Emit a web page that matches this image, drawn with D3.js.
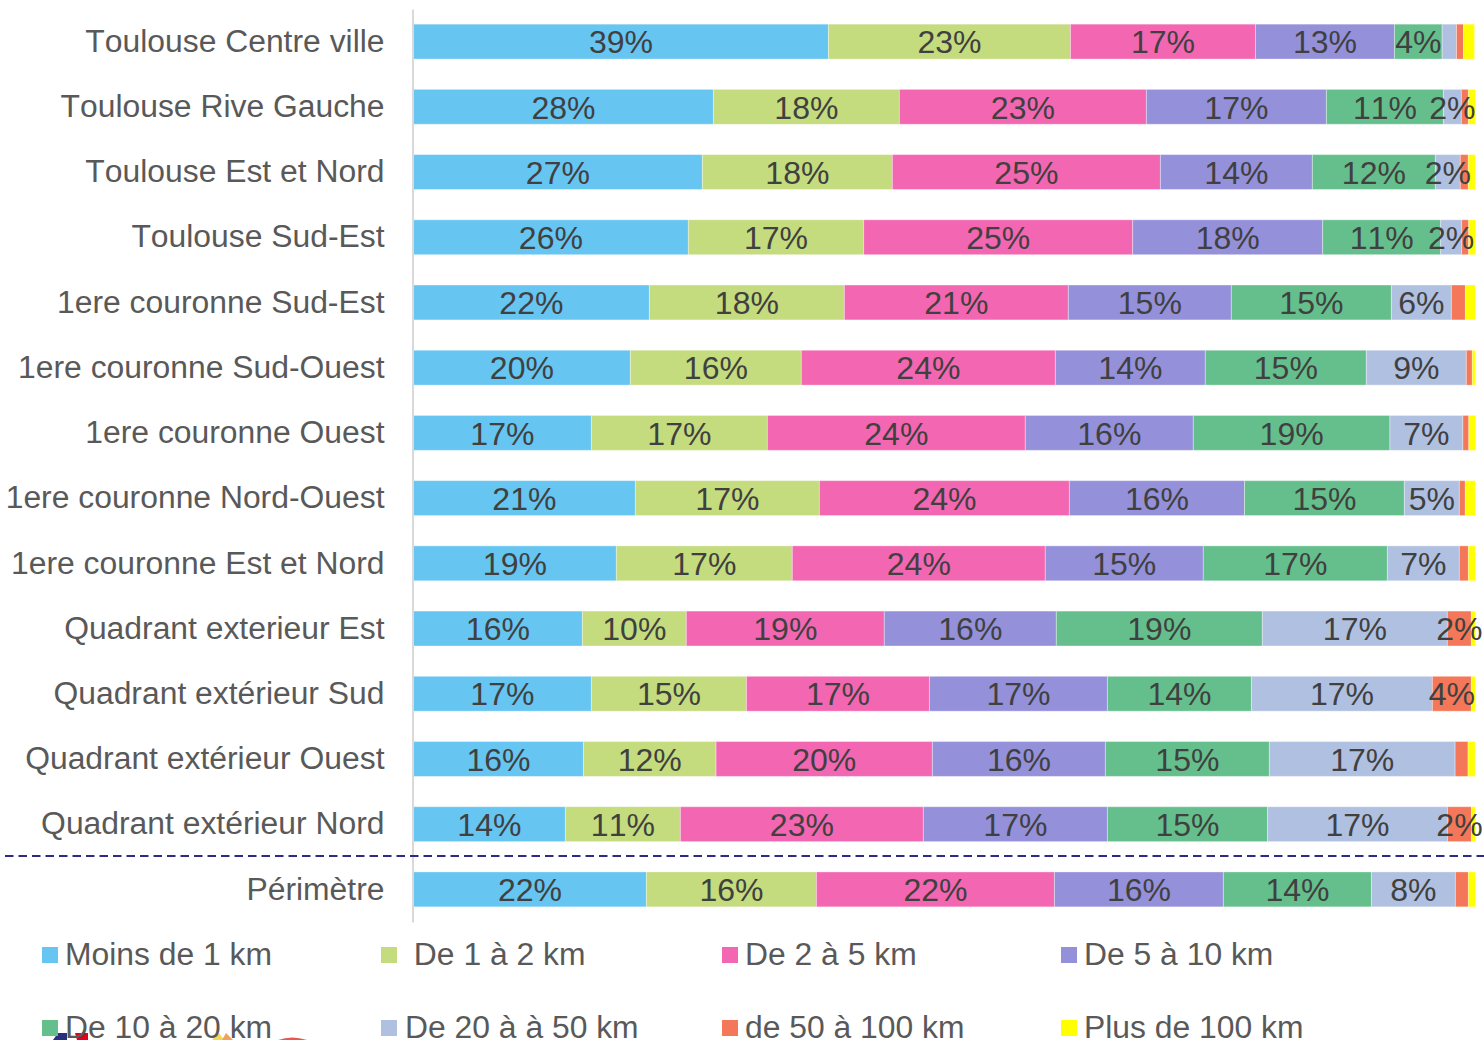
<!DOCTYPE html>
<html><head><meta charset="utf-8">
<script src="https://cdnjs.cloudflare.com/ajax/libs/d3/7.8.5/d3.min.js"></script>
<style>html,body{margin:0;padding:0;background:#fff;overflow:hidden}svg{display:block}text{font-family:"Liberation Sans",Arial,sans-serif;font-kerning:none}</style>
</head><body><div id="c"></div>
<script>
const categories=["Toulouse Centre ville","Toulouse Rive Gauche","Toulouse Est et Nord","Toulouse Sud-Est","1ere couronne Sud-Est","1ere couronne Sud-Ouest","1ere couronne Ouest","1ere couronne Nord-Ouest","1ere couronne Est et Nord","Quadrant exterieur Est","Quadrant extérieur Sud","Quadrant extérieur Ouest","Quadrant extérieur Nord","Périmètre"];
const seriesNames=["Moins de 1 km"," De 1 à 2 km","De 2 à 5 km","De 5 à 10 km","De 10 à 20 km","De 20 à à 50 km","de 50 à 100 km","Plus de 100 km"];
const seriesColors=["#66C5F1","#C4DB7E","#F366B1","#9490DA","#65BF8C","#B0C0E1","#F37758","#FFFF00"];
const moins1=[39.08,28.25,27.21,25.89,22.22,20.43,16.76,20.9,19.11,15.91,16.76,16.01,14.31,21.94];
const de1a2=[22.79,17.51,17.89,16.51,18.36,16.10,16.57,17.33,16.57,9.79,14.6,12.49,10.83,16.01];
const de2a5=[17.42,23.26,25.24,25.33,21.09,23.92,24.29,23.54,23.82,18.64,17.23,20.37,22.88,22.41];
const de5a10=[13.09,16.95,14.31,17.89,15.35,14.12,15.82,16.49,14.88,16.2,16.76,16.29,17.33,15.91];
const de10a20=[4.49,11.02,11.58,11.11,15.07,15.16,18.51,15.05,17.33,19.4,13.56,15.44,15.07,13.94];
const de20a50=[1.35,1.69,2.35,1.98,5.65,9.42,6.87,5.18,6.78,17.42,17.04,17.49,16.95,7.91];
const de50a100=[0.66,0.66,0.75,0.66,1.32,0.56,0.56,0.56,0.85,2.26,3.67,1.22,2.26,1.22];
const plus100=[1.04,0.66,0.66,0.66,0.94,0.28,0.66,0.94,0.66,0.38,0.38,0.66,0.38,0.66];
const allSeries=[moins1,de1a2,de2a5,de5a10,de10a20,de20a50,de50a100,plus100];
const rows=categories.map((c,i)=>{const o={cat:c};seriesNames.forEach((s,k)=>o[s]=allSeries[k][i]);return o;});
const W=1484,H=1040;
const svg=d3.select("#c").append("svg").attr("width",W).attr("height",H);
const x=d3.scaleLinear().domain([0,100]).range([413.4,1475.4]);
const y=d3.scaleBand().domain(categories).range([9,922]).paddingInner(0.465).paddingOuter(0.2325);
const stack=d3.stack().keys(seriesNames)(rows);
const g=svg.selectAll("g.s").data(stack).join("g").attr("class","s").attr("fill",(d,i)=>seriesColors[i]);
g.selectAll("rect").data(d=>d).join("rect")
 .attr("x",d=>x(d[0])).attr("y",d=>y(d.data.cat)).attr("width",d=>x(d[1])-x(d[0])).attr("height",y.bandwidth())
 .attr("stroke","#fff").attr("stroke-opacity",.35).attr("stroke-width",1);
const yAxis=d3.axisLeft(y).tickSize(0).tickPadding(28);
const ax=svg.append("g").attr("transform","translate(412.5,0)").call(yAxis);
ax.select(".domain").attr("stroke","#D9D9D9").attr("stroke-width",2);
ax.selectAll("text").attr("font-size",31.85).attr("fill","#595959").attr("dy","0.32em");
svg.append("g").selectAll("g").data(stack).join("g").selectAll("text").data(d=>d.filter(v=>v[1]-v[0]>=1.5)).join("text")
 .attr("x",d=>x((d[0]+d[1])/2)).attr("y",d=>y(d.data.cat)+y.bandwidth()/2+0.5).attr("dy","0.35em")
 .attr("text-anchor","middle").attr("font-size",32).attr("fill","#404040")
 .text(d=>Math.round(d[1]-d[0])+"%");
svg.append("line").attr("x1",5).attr("x2",1484).attr("y1",856).attr("y2",856)
 .attr("stroke","#2E2A86").attr("stroke-width",2).attr("stroke-dasharray","8.5 5");
// cropped logo fragments visible along the bottom edge of the reference
const deco=svg.append("g");
deco.append("path").attr("d","M53 1040L58 1033H67V1040Z").attr("fill","#26307F");
deco.append("path").attr("d","M75 1033L88 1033V1040H77Z").attr("fill","#E2001A");
deco.append("path").attr("d","M212 1040L219 1033L224 1040Z").attr("fill","#F7D65A");
deco.append("path").attr("d","M222 1040L226 1033L233 1040Z").attr("fill","#EFA35A");
deco.append("path").attr("d","M278 1040Q292 1035 307 1040Z").attr("fill","#E8564F");
const lx=[42,381,722,1061], ly=[947,1020], tx=[65,405,745,1084];
const leg=svg.append("g").selectAll("g").data(seriesNames).join("g");
leg.append("rect").attr("x",(d,i)=>lx[i%4]).attr("y",(d,i)=>ly[i>>2]).attr("width",16).attr("height",16).attr("fill",(d,i)=>seriesColors[i]);
leg.append("text").attr("x",(d,i)=>tx[i%4]).attr("y",(d,i)=>ly[i>>2]+7).attr("dy","0.36em").attr("font-size",31.85).attr("fill","#595959").style("white-space","pre").text(d=>d);
</script></body></html>
